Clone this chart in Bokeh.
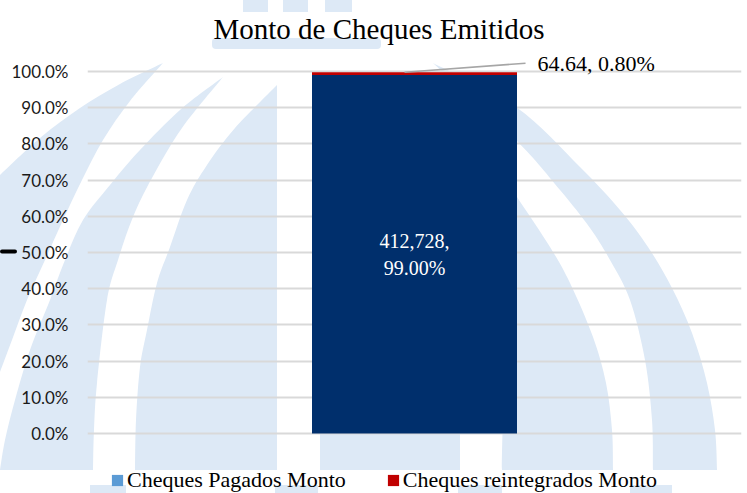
from urllib.parse import quote

from bokeh.plotting import figure
from bokeh.models import (Range1d, FixedTicker, NumeralTickFormatter, Legend, LegendItem,
                          ColumnDataSource, InlineStyleSheet)
from bokeh.core.properties import value
from bokeh.embed import file_html
from bokeh.resources import INLINE

# ---------------- data ----------------
title_text = "Monto de Cheques Emitidos"
categories = ["Monto"]
series_names = ["Cheques Pagados Monto", "Cheques reintegrados Monto"]
pagados_monto = [412728]
reintegrados_monto = [64.64]
pagados_pct = [0.99]
reintegrados_pct = [0.008]
y_ticks = [0.0, 0.1, 0.2, 0.3, 0.4, 0.5, 0.6, 0.7, 0.8, 0.9, 1.0]

# ---------------- styles ----------------
NAVY = "#002f6c"
RED = "#c00000"
LEGEND_BLUE = "#5b9bd5"
WM = "#dde9f6"
SERIF = "Liberation Serif"

W, H = 747, 493
LEFT, RIGHT, TOP, BOTTOM = 87, 6, 46, 0
PX_PER_UNIT = 362.0           # pixels between 0% and 100%
ZERO_PX = 433                 # pixel row of the 0% line
frame_w = W - LEFT - RIGHT
Y1 = 1 + (ZERO_PX - PX_PER_UNIT - TOP) / PX_PER_UNIT
Y0 = -(H - BOTTOM - ZERO_PX) / PX_PER_UNIT
px_y = PX_PER_UNIT


# ---------------- background watermark (decoration) ----------------
def smooth(pts):
    """Catmull-Rom through pts -> cubic bezier path segments (without the initial M)."""
    out = []
    n = len(pts)
    for i in range(n - 1):
        p0 = pts[i - 1] if i > 0 else pts[i]
        p1 = pts[i]
        p2 = pts[i + 1]
        p3 = pts[i + 2] if i + 2 < n else pts[i + 1]
        c1 = (p1[0] + (p2[0] - p0[0]) / 6, p1[1] + (p2[1] - p0[1]) / 6)
        c2 = (p2[0] - (p3[0] - p1[0]) / 6, p2[1] - (p3[1] - p1[1]) / 6)
        out.append(f"C{c1[0]:.1f},{c1[1]:.1f} {c2[0]:.1f},{c2[1]:.1f} {p2[0]},{p2[1]}")
    return " ".join(out)


def band(edge_a, edge_b):
    d = f"M{edge_a[0][0]},{edge_a[0][1]} " + smooth(edge_a)
    d += f" L{edge_b[0][0]},{edge_b[0][1]} " + smooth(edge_b) + " Z"
    return f'<path d="{d}"/>'


shapes = []
# left arches
shapes.append(band([(163, 63), (120, 84), (80, 108), (40, 138), (0, 175)],
                   [(0, 372), (12, 340), (27, 300), (45, 260), (63, 220), (82, 180), (103, 140),
                    (130, 101), (163, 63)]))
shapes.append(band([(223, 77), (180, 110), (140, 150), (110, 185), (83, 220), (65, 260), (50, 300),
                    (30, 350), (15, 400), (5, 440), (0, 470)],
                   [(93, 470), (94, 430), (97, 383), (107, 300), (118, 260), (133, 217),
                    (152, 178), (182, 128), (223, 77)]))
shapes.append(band([(277, 85), (277, 470)],
                   [(135, 470), (136, 420), (140, 367), (147, 330), (157, 283), (170, 247),
                    (187, 200), (207, 165), (235, 128), (277, 85)]))
# centre column
shapes.append('<rect x="320" y="100" width="140" height="370"/>')
# right arches
shapes.append(band([(440, 90), (480, 140), (517, 197), (550, 247), (570, 283), (593, 337),
                    (606, 383), (612, 430), (613, 470)],
                   [(502, 470), (502, 150), (440, 90)]))
shapes.append(band([(433, 63), (516, 107), (580, 167), (620, 210), (648, 247), (672, 288),
                    (692, 333), (707, 383), (715, 430), (717, 470)],
                   [(653, 470), (652, 420), (645, 360), (630, 300), (610, 260), (590, 228),
                    (560, 190), (516, 140), (433, 63)]))
# title bar and top columns
shapes.append('<rect x="212" y="38" width="169" height="11" rx="4"/>')
for x0, x1 in [(243, 268), (283, 308), (325, 352)]:
    shapes.append(f'<rect x="{x0}" y="0" width="{x1 - x0}" height="12"/>')
# base blocks
for x0, x1 in [(90, 126), (275, 318), (458, 502), (630, 672)]:
    shapes.append(f'<rect x="{x0}" y="485" width="{x1 - x0}" height="8"/>')

svg = (f'<svg xmlns="http://www.w3.org/2000/svg" width="{W}" height="{H}" viewBox="0 0 {W} {H}">'
       f'<g fill="{WM}">' + "".join(shapes) + '</g>'
       '<rect x="0" y="249.5" width="17" height="4" rx="2" fill="#000000"/>'
       '</svg>')
bg_css = (":host { background-color: #ffffff; background-image: url(\"data:image/svg+xml,"
          + quote(svg) + "\"); background-repeat: no-repeat; background-position: 0 0; "
          f"background-size: {W}px {H}px; }}")

# ---------------- figure ----------------
xs = [i + 0.5 for i in range(len(categories))]
tops_pag = pagados_pct
tops_rei = [a + b for a, b in zip(pagados_pct, reintegrados_pct)]
src = ColumnDataSource(dict(x=xs, p_top=tops_pag, r_bottom=pagados_pct, r_top=tops_rei))

p = figure(width=W, height=H, output_backend="svg", toolbar_location=None,
           x_range=Range1d(0, len(categories)), y_range=Range1d(Y0, Y1),
           min_border_left=LEFT, min_border_right=RIGHT,
           min_border_top=TOP, min_border_bottom=BOTTOM)
p.stylesheets = [InlineStyleSheet(css=bg_css)]
p.background_fill_alpha = 0
p.border_fill_alpha = 0
p.outline_line_color = None

p.title.text = title_text
p.title.text_font = SERIF
p.title.text_font_size = "29px"
p.title.text_font_style = "normal"
p.title.text_color = "#000000"
p.title.align = "left"
p.title.offset = 213 - LEFT
p.title.standoff = 4

bar_w = 205 / frame_w
p.vbar(x="x", bottom=0, top="p_top", width=bar_w, source=src, fill_color=NAVY, line_color=None)
p.vbar(x="x", bottom="r_bottom", top="r_top", width=bar_w, source=src, fill_color=RED, line_color=None)

# axes and grid
p.xaxis.visible = False
p.xgrid.visible = False
p.yaxis.ticker = FixedTicker(ticks=y_ticks)
p.yaxis.formatter = NumeralTickFormatter(format="0.0%")
p.yaxis.axis_line_color = None
p.yaxis.major_tick_line_color = None
p.yaxis.minor_tick_line_color = None
p.yaxis.major_tick_out = 0
p.yaxis.major_tick_in = 0
p.yaxis.major_label_standoff = 19
p.yaxis.major_label_text_font = "Lato"
p.yaxis.major_label_text_font_size = "17px"
p.yaxis.major_label_text_color = "#1a1a1a"
p.ygrid.ticker = FixedTicker(ticks=y_ticks)
p.ygrid.grid_line_color = "#d9d9d9"
p.ygrid.grid_line_width = 2

# data labels
in_text = [f"{m:,},\n{v * 100:.2f}%" for m, v in zip(pagados_monto, pagados_pct)]
p.text(x=xs, y=[v / 2 for v in pagados_pct], text=in_text,
       text_font=value(SERIF), text_font_size=value("20px"), text_color="#ffffff",
       text_align="center", text_baseline="middle", text_line_height=1.25)

out_text = [f"{m:.2f}, {v * 100:.2f}%" for m, v in zip(reintegrados_monto, reintegrados_pct)]
lead_x0 = [x - 10 / frame_w for x in xs]
lead_x1 = [x + 111 / frame_w for x in xs]
lead_y1 = [t + 9 / px_y for t in tops_rei]
p.segment(x0=lead_x0, y0=tops_rei, x1=lead_x1, y1=lead_y1, line_color="#a6a6a6", line_width=1.5)
p.text(x=[x + 123 / frame_w for x in xs], y=lead_y1, text=out_text,
       text_font=value(SERIF), text_font_size=value("22px"), text_color="#000000",
       text_align="left", text_baseline="middle")

# legend swatches (zero-height, only used to draw the legend keys in the original colours)
sw_src = ColumnDataSource(dict(x=xs, b=[0.0] * len(xs)))
sw1 = p.vbar(x="x", bottom="b", top="b", width=0.001, source=sw_src,
             fill_color=LEGEND_BLUE, line_color=None)
sw2 = p.vbar(x="x", bottom="b", top="b", width=0.001, source=sw_src,
             fill_color=RED, line_color=None)
legend = Legend(items=[LegendItem(label=series_names[0], renderers=[sw1]),
                       LegendItem(label=series_names[1], renderers=[sw2])],
                location=(23, 0), orientation="horizontal", padding=0, margin=0,
                spacing=40, label_standoff=3, glyph_width=14, glyph_height=14,
                label_height=20, background_fill_alpha=0, border_line_color=None,
                label_text_font=SERIF, label_text_font_size="22px",
                label_text_color="#000000")
p.add_layout(legend)

open("out.html", "w").write(file_html(p, INLINE))
